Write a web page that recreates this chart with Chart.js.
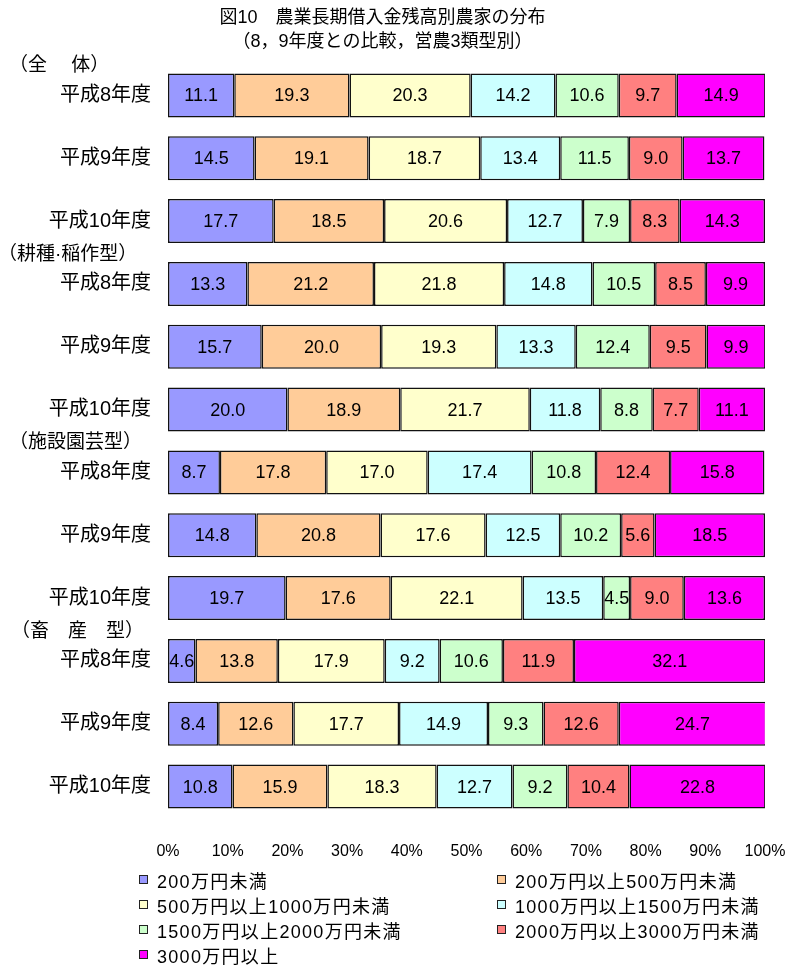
<!DOCTYPE html>
<html lang="ja">
<head>
<meta charset="utf-8">
<script src="https://cdn.jsdelivr.net/npm/chart.js@4.4.1/dist/chart.umd.min.js"></script>
<style>
  html, body { margin: 0; padding: 0; background: #fff; }
  #wrap { position: relative; width: 787px; height: 966px; }
  #chart { position: absolute; left: 0; top: 0; }
  #legend {
    position: absolute; left: 139px; top: 867px; width: 648px;
    display: grid; grid-template-columns: 358px 290px; grid-auto-rows: 25px;
    font-family: "Liberation Sans", "Noto Sans CJK JP", sans-serif; font-size: 18px;
    letter-spacing: 1.3px; color: #000;
  }
  #legend .item { display: flex; align-items: center; white-space: nowrap; }
  #legend .box { width: 7px; height: 7px; border: 1px solid #222; margin-right: 9px; flex: none; }
</style>
</head>
<body>
<div id="wrap">
  <canvas id="chart" width="787" height="966"></canvas>
  <div id="legend"></div>
</div>
<script>
const FONT = '"Liberation Sans", "Noto Sans CJK JP", sans-serif';

const rowLabels = [
  '平成8年度', '平成9年度', '平成10年度',
  '平成8年度', '平成9年度', '平成10年度',
  '平成8年度', '平成9年度', '平成10年度',
  '平成8年度', '平成9年度', '平成10年度'
];

// group headings sit just above the first row of each farm type
const groupNames = ['（全　 体）', '（耕種·稲作型）', '（施設園芸型）', '（畜　産　型）'];
const groupStartRow = [0, 3, 6, 9];

const classNames = [
  '200万円未満',
  '200万円以上500万円未満',
  '500万円以上1000万円未満',
  '1000万円以上1500万円未満',
  '1500万円以上2000万円未満',
  '2000万円以上3000万円未満',
  '3000万円以上'
];
const classColors = ['#9999FF', '#FFCC99', '#FFFFCC', '#CCFFFF', '#CCFFCC', '#FF8080', '#FF00FF'];

// share (%) of farms per loan-balance class, one array per class, rows in rowLabels order
const under200    = [11.1, 14.5, 17.7, 13.3, 15.7, 20.0,  8.7, 14.8, 19.7,  4.6,  8.4, 10.8];
const from200     = [19.3, 19.1, 18.5, 21.2, 20.0, 18.9, 17.8, 20.8, 17.6, 13.8, 12.6, 15.9];
const from500     = [20.3, 18.7, 20.6, 21.8, 19.3, 21.7, 17.0, 17.6, 22.1, 17.9, 17.7, 18.3];
const from1000    = [14.2, 13.4, 12.7, 14.8, 13.3, 11.8, 17.4, 12.5, 13.5,  9.2, 14.9, 12.7];
const from1500    = [10.6, 11.5,  7.9, 10.5, 12.4,  8.8, 10.8, 10.2,  4.5, 10.6,  9.3,  9.2];
const from2000    = [ 9.7,  9.0,  8.3,  8.5,  9.5,  7.7, 12.4,  5.6,  9.0, 11.9, 12.6, 10.4];
const over3000    = [14.9, 13.7, 14.3,  9.9,  9.9, 11.1, 15.8, 18.5, 13.6, 32.1, 24.7, 22.8];
const seriesValues = [under200, from200, from500, from1000, from1500, from2000, over3000];

const xTicks = [0, 10, 20, 30, 40, 50, 60, 70, 80, 90, 100];

const segmentLabels = {
  id: 'segmentLabels',
  afterDatasetsDraw(chart) {
    const ctx = chart.ctx;
    ctx.save();
    ctx.font = '18px ' + FONT;
    ctx.fillStyle = '#000';
    ctx.textAlign = 'center';
    ctx.textBaseline = 'middle';
    chart.data.datasets.forEach((ds, di) => {
      chart.getDatasetMeta(di).data.forEach((bar, i) => {
        ctx.fillText(ds.data[i].toFixed(1), (bar.x + bar.base) / 2, bar.y + 1);
      });
    });
    ctx.restore();
  }
};

const groupHeadings = {
  id: 'groupHeadings',
  afterDraw(chart) {
    const ctx = chart.ctx;
    const y = chart.scales.y;
    const step = y.getPixelForValue(1) - y.getPixelForValue(0);
    const lefts = [9, -2, 9, 11];
    ctx.save();
    ctx.font = '19px ' + FONT;
    ctx.fillStyle = '#000';
    ctx.textAlign = 'left';
    ctx.textBaseline = 'middle';
    groupNames.forEach((name, g) => {
      const py = y.getPixelForValue(groupStartRow[g]) - step * 0.47;
      ctx.fillText(name, lefts[g], py);
    });
    ctx.restore();
  }
};

const chart = new Chart(document.getElementById('chart'), {
  type: 'bar',
  data: {
    labels: rowLabels,
    datasets: classNames.map((name, i) => ({
      label: name,
      data: seriesValues[i],
      backgroundColor: classColors[i],
      borderColor: '#111',
      borderWidth: 1.5,
      borderSkipped: false,
      barPercentage: 0.7,
      categoryPercentage: 1
    }))
  },
  options: {
    indexAxis: 'y',
    responsive: false,
    animation: false,
    layout: { padding: { left: 0, right: 22, top: 0, bottom: 98 } },
    scales: {
      x: {
        stacked: true,
        min: 0,
        max: 100,
        grid: { display: false },
        border: { display: false },
        afterBuildTicks: s => { s.ticks = xTicks.map(v => ({ value: v })); },
        afterFit: s => {
          s.height = 50;
          // let the end labels hang over the padding instead of shrinking the bars
          s.paddingLeft = 0;
          s.paddingRight = 0;
        },
        ticks: {
          padding: 16,
          color: '#000',
          font: { family: FONT, size: 16 },
          callback: v => v + '%'
        }
      },
      y: {
        stacked: true,
        grid: { display: false },
        border: { display: false },
        afterFit: s => { s.width = 168; },
        ticks: {
          padding: 9,
          color: '#000',
          font: { family: FONT, size: 20 }
        }
      }
    },
    plugins: {
      legend: { display: false },
      tooltip: { enabled: false },
      title: {
        display: true,
        text: ['図10　農業長期借入金残高別農家の分布', '（8，9年度との比較，営農3類型別）'],
        color: '#000',
        font: { family: FONT, size: 18, weight: 'normal', lineHeight: 24 / 18 },
        padding: { top: 6, bottom: 10 }
      }
    }
  },
  plugins: [segmentLabels, groupHeadings]
});

// two-column legend under the axis
const legendEl = document.getElementById('legend');
chart.data.datasets.forEach(ds => {
  const item = document.createElement('div');
  item.className = 'item';
  const box = document.createElement('span');
  box.className = 'box';
  box.style.background = ds.backgroundColor;
  item.appendChild(box);
  item.appendChild(document.createTextNode(ds.label));
  legendEl.appendChild(item);
});
</script>
</body>
</html>
